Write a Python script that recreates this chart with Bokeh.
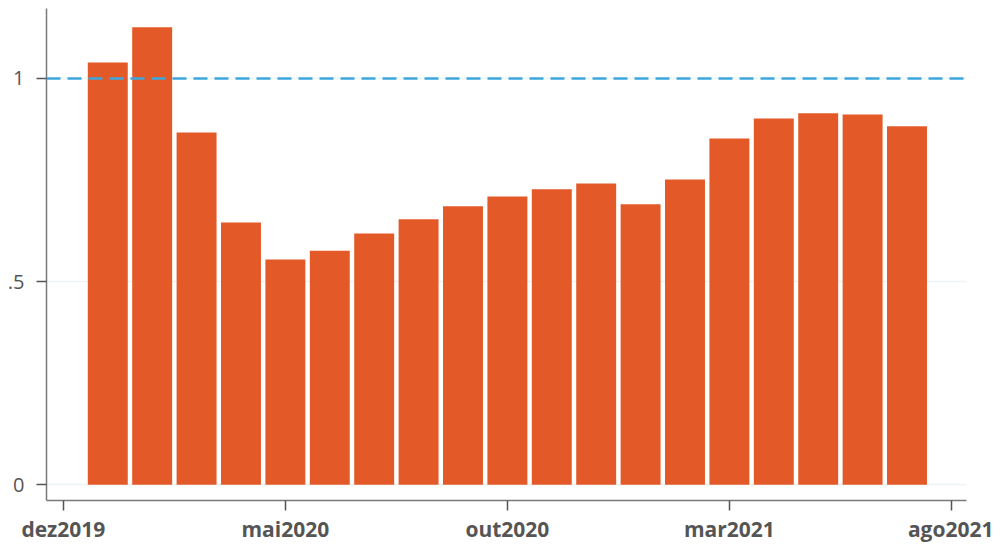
from bokeh.plotting import figure
from bokeh.models import ColumnDataSource, FixedTicker, Span, Range1d, LinearAxis
from bokeh.embed import file_html
from bokeh.resources import INLINE

months = ["jan2020", "fev2020", "mar2020", "abr2020", "mai2020", "jun2020", "jul2020",
          "ago2020", "set2020", "out2020", "nov2020", "dez2020", "jan2021", "fev2021",
          "mar2021", "abr2021", "mai2021", "jun2021", "jul2021"]
values = [1.039, 1.126, 0.867, 0.645, 0.554, 0.576, 0.618, 0.653, 0.685, 0.709,
          0.727, 0.741, 0.690, 0.751, 0.852, 0.901, 0.914, 0.911, 0.882]
x_ticks = [0, 5, 10, 15, 20]
x_tick_labels = ["dez2019", "mai2020", "out2020", "mar2021", "ago2021"]
y_ticks = [0, 0.5, 1]
y_tick_labels = ["0", ".5", "1"]
reference = 1.0

xpos = [i + 1 for i in range(len(months))]
src = ColumnDataSource(dict(x=xpos, top=values, month=months))

p = figure(width=993, height=546, output_backend="svg", toolbar_location=None,
           x_range=Range1d(-0.38, 20.34), y_range=Range1d(-0.039, 1.172),
           x_axis_location=None, y_axis_location=None,
           min_border_left=46, min_border_top=8, min_border_right=27, min_border_bottom=46,
           background_fill_color="white", border_fill_color="white")
p.outline_line_color = None

p.vbar(x="x", top="top", bottom=0, width=0.9, source=src,
       fill_color="#E35A28", line_color=None)

p.add_layout(Span(location=reference, dimension="width", line_color="#3FA6DD",
                  line_width=2.5, line_dash="14 7"))

common = dict(axis_line_color="#7A7A7A", axis_line_width=1.5,
              major_tick_line_color="#555555", major_tick_line_width=1.5,
              major_tick_out=10, major_tick_in=0, minor_tick_line_color=None,
              major_label_text_font="Open Sans", major_label_text_color="#555555")

xaxis = LinearAxis(ticker=FixedTicker(ticks=x_ticks),
                   major_label_overrides={t: l for t, l in zip(x_ticks, x_tick_labels)},
                   major_label_text_font_style="bold", major_label_text_font_size="21px",
                   major_label_standoff=4, **common)
yaxis = LinearAxis(ticker=FixedTicker(ticks=y_ticks),
                   major_label_overrides={t: l for t, l in zip(y_ticks, y_tick_labels)},
                   major_label_text_font_size="20px", major_label_standoff=12, **common)
p.add_layout(xaxis, "below")
p.add_layout(yaxis, "left")

p.xgrid.visible = False
p.ygrid.ticker = FixedTicker(ticks=y_ticks)
p.ygrid.grid_line_color = "#EEF3F5"
p.ygrid.grid_line_width = 1.5

open("out.html", "w").write(file_html(p, INLINE))
